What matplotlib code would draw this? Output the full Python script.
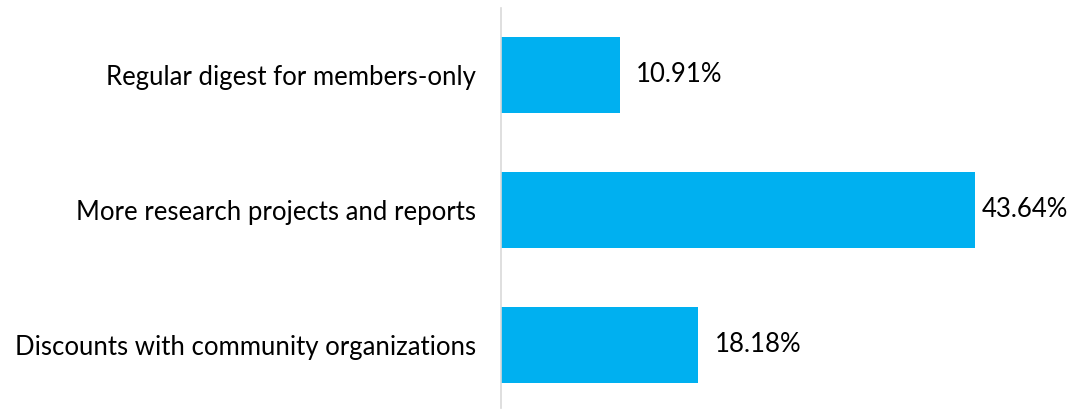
import matplotlib
matplotlib.use("Agg")
import matplotlib.pyplot as plt

categories = ["Regular digest for members-only",
              "More research projects and reports",
              "Discounts with community organizations"]
values = [10.91, 43.64, 18.18]
value_labels = ["10.91%", "43.64%", "18.18%"]

plt.rcParams['font.family'] = ['Lato', 'DejaVu Sans']

fig = plt.figure(figsize=(10.68, 4.09), dpi=100)
ax = fig.add_axes([501/1068, 1/409, 1 - 501/1068, 400/409])

ypos = list(range(len(categories)))
ax.barh(ypos, values, height=0.56, color="#00B0F0", left=0)
ax.set_xlim(0, 52.2)
ax.set_ylim(2.467, -0.496)

pads = [1.5, 0.65, 1.5]
for y, v, lab, p in zip(ypos, values, value_labels, pads):
    ax.text(v + p, y, lab, va="center", ha="left", fontsize=18.5, color="black")

ax.set_yticks(ypos)
ax.set_yticklabels(categories, fontsize=18.5, color="black")
ax.tick_params(axis="y", length=0, pad=18)
ax.set_xticks([])
for s in ["top", "right", "bottom"]:
    ax.spines[s].set_visible(False)
ax.spines["left"].set_color("#D9D9D9")
ax.spines["left"].set_linewidth(1.2)

fig.savefig("out.png", dpi=100)
